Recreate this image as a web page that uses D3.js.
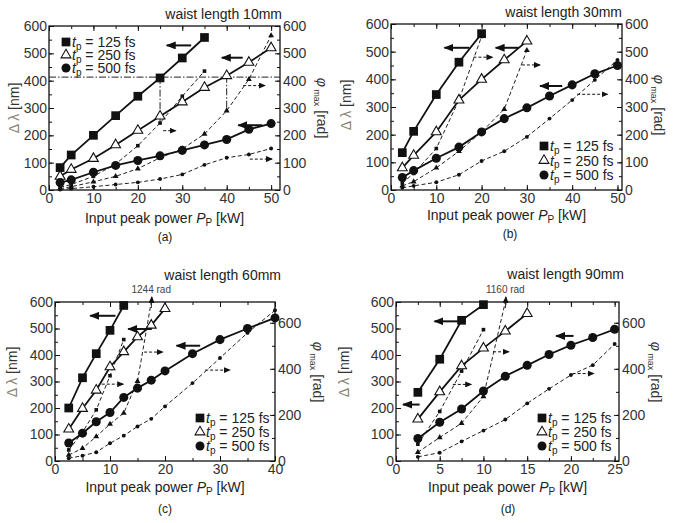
<!DOCTYPE html>
<html>
<head>
<meta charset="utf-8">
<script src="https://cdn.jsdelivr.net/npm/d3@7"></script>
<style>
  body { margin: 0; background: #fff; }
  svg text { font-family: "Liberation Sans", Arial, sans-serif; }
</style>
</head>
<body>
<svg id="fig" width="674" height="523"></svg>
<script>
// pulse widths (legend)
const pulses = [125, 250, 500];

// (a) waist length 10mm
const pA125 = [2.5, 5, 10, 15, 20, 25, 30, 35];
const pA250 = [2.5, 5, 10, 15, 20, 25, 30, 35, 40, 45, 50];
const pA500 = [2.5, 5, 10, 15, 20, 25, 30, 35, 40, 45, 50];
const dlA125 = [82, 128, 200, 272, 343, 410, 483, 558];
const dlA250 = [50, 75, 115, 165, 218, 270, 322, 375, 418, 467, 520];
const dlA500 = [27, 37, 65, 90, 108, 125, 145, 165, 185, 222, 243];
const phA125 = [10, 20, 50, 95, 162, 245, 343, 435];
const phA250 = [5, 12, 30, 50, 78, 118, 150, 205, 290, 405, 565];
const phA500 = [2, 5, 12, 20, 28, 40, 57, 92, 118, 130, 152];

// (b) waist length 30mm
const pB125 = [2.5, 5, 10, 15, 20];
const pB250 = [2.5, 5, 10, 15, 20, 25, 30];
const pB500 = [2.5, 5, 10, 15, 20, 25, 30, 35, 40, 45, 50];
const dlB125 = [135, 212, 345, 462, 565];
const dlB250 = [80, 125, 210, 325, 400, 470, 538];
const dlB500 = [45, 70, 115, 155, 210, 258, 297, 340, 380, 420, 450];
const phB125 = [25, 60, 150, 325, 555];
const phB250 = [15, 30, 80, 140, 210, 292, 505];
const phB500 = [8, 15, 28, 55, 105, 140, 192, 258, 325, 398, 470];

// (c) waist length 60mm
const pC125 = [2.5, 5, 7.5, 10, 12.5];
const pC250 = [2.5, 5, 7.5, 10, 12.5, 15, 17.5, 20];
const pC500 = [2.5, 5, 7.5, 10, 12.5, 15, 17.5, 20, 25, 30, 35, 40];
const dlC125 = [200, 314, 405, 493, 587];
const dlC250 = [120, 198, 267, 355, 412, 468, 512, 575];
const dlC500 = [68, 105, 148, 183, 240, 275, 305, 340, 405, 458, 500, 540];
const phC125 = [48, 125, 222, 370, 527];
const phC250 = [26, 55, 106, 160, 208, 346, 1244];
const phC500 = [12, 23, 38, 77, 110, 150, 183, 237, 338, 447, 556, 654];

// (d) waist length 90mm
const pD125 = [2.5, 5, 7.5, 10];
const pD250 = [2.5, 5, 7.5, 10, 12.5, 15];
const pD500 = [2.5, 5, 7.5, 10, 12.5, 15, 17.5, 20, 22.5, 25];
const dlD125 = [259, 384, 531, 590];
const dlD250 = [158, 261, 359, 426, 490, 556];
const dlD500 = [85, 146, 196, 264, 320, 361, 402, 437, 466, 497];
const phD125 = [73, 215, 390, 570];
const phD250 = [38, 102, 164, 280, 1160];
const phD500 = [18, 36, 85, 132, 180, 250, 313, 373, 416, 508];

// tick labels
const xTicksAB = [0, 10, 20, 30, 40, 50];
const xTicksC = [0, 10, 20, 30, 40];
const xTicksD = [0, 5, 10, 15, 20, 25];
const yTicksL = [0, 100, 200, 300, 400, 500, 600];
const yTicksR2 = [0, 200, 400, 600];

const panels = [
  {
    left: 49, right: 280, top: 26, bottom: 190, xMax: 52, rMax: 600,
    xTicks: xTicksAB, xMinor: 5, rTicks: yTicksL, rMinor: 50,
    title: "waist length 10mm", titleX: 282, titleY: 19, caption: "(a)", capX: 165, capY: 241,
    yTitleX: 19, rTitleX: 317, titleYc: 108, xTitleY: 223,
    legend: [66, 42, 13],
    series: [
      [pA125, dlA125, phA125, "sq"], [pA250, dlA250, phA250, "tri"], [pA500, dlA500, phA500, "dot"]
    ],
    arrows: [
      [32, 26.5, 529, 0], [43.6, 38.9, 484, 0], [48, 42.6, 237, 0],
      [25.7, 28.5, 217, 1], [43.7, 48.6, 382, 1], [45.2, 50.2, 113, 1]
    ],
    guides: true
  },
  {
    left: 391, right: 622, top: 24, bottom: 190, xMax: 51, rMax: 600,
    xTicks: xTicksAB, xMinor: 5, rTicks: yTicksL, rMinor: 50,
    title: "waist length 30mm", titleX: 622, titleY: 17, caption: "(b)", capX: 510, capY: 238,
    yTitleX: 351, rTitleX: 654, titleYc: 105, xTitleY: 220,
    legend: [544, 146, 14.5],
    series: [
      [pB125, dlB125, phB125, "sq"], [pB250, dlB250, phB250, "tri"], [pB500, dlB500, phB500, "dot"]
    ],
    arrows: [
      [17.3, 11.8, 514, 0], [28.2, 23.1, 514, 0], [37.8, 32.9, 376, 0],
      [18.2, 22.4, 480, 1], [28.9, 32.9, 452, 1], [41.1, 47.8, 346, 1]
    ]
  },
  {
    left: 55, right: 275, top: 302, bottom: 461, xMax: 40, rMax: 690,
    xTicks: xTicksC, xMinor: 5, rTicks: yTicksR2, rMinor: 100,
    title: "waist length 60mm", titleX: 281, titleY: 280, caption: "(c)", capX: 165, capY: 513,
    yTitleX: 17, rTitleX: 313, titleYc: 372, xTitleY: 492,
    legend: [200, 418, 14],
    series: [
      [pC125, dlC125, phC125, "sq"], [pC250, dlC250, phC250, "tri"], [pC500, dlC500, phC500, "dot"]
    ],
    arrows: [
      [11, 6.4, 548, 0], [17.6, 13.3, 498, 0], [26.4, 22.1, 435, 0],
      [8.5, 12.4, 290, 1], [16.2, 19.6, 411, 1], [27.3, 31.8, 343, 1]
    ]
  },
  {
    left: 396, right: 619, top: 302, bottom: 461, xMax: 25.5, rMax: 690,
    xTicks: xTicksD, xMinor: 2.5, rTicks: yTicksR2, rMinor: 100,
    title: "waist length 90mm", titleX: 624, titleY: 279, caption: "(d)", capX: 508, capY: 513,
    yTitleX: 349, rTitleX: 651, titleYc: 372, xTitleY: 492,
    legend: [542, 418, 14],
    series: [
      [pD125, dlD125, phD125, "sq"], [pD250, dlD250, phD250, "tri"], [pD500, dlD500, phD500, "dot"]
    ],
    arrows: [
      [7.6, 4.4, 527, 0], [2.7, 0.8, 213, 0], [20.3, 18.3, 472, 0],
      [6.5, 8.6, 289, 1], [11.1, 12.9, 412, 1], [20.2, 22.6, 330, 1]
    ]
  }
];

const svg = d3.select("#fig");
const defs = svg.append("defs");
defs.append("marker").attr("id", "hs").attr("viewBox", "0 0 10 8")
  .attr("refX", 9).attr("refY", 4).attr("markerWidth", 10).attr("markerHeight", 8)
  .attr("markerUnits", "userSpaceOnUse").attr("orient", "auto")
  .append("path").attr("d", "M0,0L10,4L0,8z").attr("fill", "#111");
defs.append("marker").attr("id", "hd").attr("viewBox", "0 0 7 6")
  .attr("refX", 6).attr("refY", 3).attr("markerWidth", 7).attr("markerHeight", 6)
  .attr("markerUnits", "userSpaceOnUse").attr("orient", "auto")
  .append("path").attr("d", "M0,0L7,3L0,6z").attr("fill", "#111");

const bigSym = { sq: d3.symbol(d3.symbolSquare, 76), tri: d3.symbol(d3.symbolTriangle, 42), dot: d3.symbol(d3.symbolCircle, 64) };
const smallSym = { sq: d3.symbol(d3.symbolSquare, 13), tri: d3.symbol(d3.symbolTriangle, 15), dot: d3.symbol(d3.symbolCircle, 12) };

function styleAxis(a) {
  a.select(".domain").remove();
  a.attr("font-family", "Liberation Sans, Arial, sans-serif").attr("font-size", 14);
  a.selectAll("line").attr("stroke", "#111");
  a.selectAll("text").attr("fill", "#333");
  return a;
}

panels.forEach(cfg => {
  const g = svg.append("g");
  const x = d3.scaleLinear().domain([0, cfg.xMax]).range([cfg.left, cfg.right]);
  const yL = d3.scaleLinear().domain([0, 600]).range([cfg.bottom, cfg.top]);
  const yR = d3.scaleLinear().domain([0, cfg.rMax]).range([cfg.bottom, cfg.top]);

  const xMinor = d3.range(0, cfg.xMax, cfg.xMinor);
  const lMinor = d3.range(0, 601, 50);
  const rMinor = d3.range(0, cfg.rMax, cfg.rMinor);

  // minor ticks
  styleAxis(g.append("g").attr("transform", `translate(0,${cfg.bottom})`)
    .call(d3.axisBottom(x).tickValues(xMinor).tickSize(-3).tickFormat("")));
  styleAxis(g.append("g").attr("transform", `translate(0,${cfg.top})`)
    .call(d3.axisTop(x).tickValues(xMinor).tickSize(-3).tickFormat("")));
  styleAxis(g.append("g").attr("transform", `translate(${cfg.left},0)`)
    .call(d3.axisLeft(yL).tickValues(lMinor).tickSize(-3).tickFormat("")));
  styleAxis(g.append("g").attr("transform", `translate(${cfg.right},0)`)
    .call(d3.axisRight(yR).tickValues(rMinor).tickSize(-3).tickFormat("")));

  // major ticks with labels
  styleAxis(g.append("g").attr("transform", `translate(0,${cfg.bottom})`)
    .call(d3.axisBottom(x).tickValues(cfg.xTicks).tickSize(-5).tickPadding(3).tickFormat(d3.format("d"))));
  styleAxis(g.append("g").attr("transform", `translate(0,${cfg.top})`)
    .call(d3.axisTop(x).tickValues(cfg.xTicks).tickSize(-5).tickFormat("")));
  styleAxis(g.append("g").attr("transform", `translate(${cfg.left},0)`)
    .call(d3.axisLeft(yL).tickValues(yTicksL).tickSize(-5).tickPadding(2)));
  styleAxis(g.append("g").attr("transform", `translate(${cfg.right},0)`)
    .call(d3.axisRight(yR).tickValues(cfg.rTicks).tickSize(-5).tickPadding(3)));

  g.append("rect").attr("x", cfg.left).attr("y", cfg.top)
    .attr("width", cfg.right - cfg.left).attr("height", cfg.bottom - cfg.top)
    .attr("fill", "none").attr("stroke", "#111").attr("stroke-width", 1.3);

  // dash-dot guides in (a)
  if (cfg.guides) {
    const gd = g.append("g").attr("stroke", "#222").attr("stroke-width", 1).attr("stroke-dasharray", "7,2,1.5,2").attr("fill", "none");
    gd.append("line").attr("x1", x(0)).attr("x2", cfg.right).attr("y1", yL(413)).attr("y2", yL(413));
    gd.append("line").attr("x1", x(25)).attr("x2", x(25)).attr("y1", yL(413)).attr("y2", yR(phA125[5]));
    gd.append("line").attr("x1", x(40)).attr("x2", x(40)).attr("y1", yL(dlA250[8])).attr("y2", yR(phA250[8]));
  }

  // phase curves (dashed, right axis), clamped at the top with an arrow
  cfg.series.forEach(([px, dl, ph, shape]) => {
    const xs = px.slice(0, ph.length);
    const pts = xs.map((v, i) => [x(v), yR(Math.min(ph[i], cfg.rMax)), ph[i] > cfg.rMax, ph[i]]);
    g.append("path").attr("d", d3.line()(pts.map(p => [p[0], p[1]])))
      .attr("fill", "none").attr("stroke", "#222").attr("stroke-width", 1).attr("stroke-dasharray", "4,2.5");
    pts.forEach(p => {
      if (p[2]) {
        g.append("line").attr("x1", p[0]).attr("y1", p[1] + 6).attr("x2", p[0] + 0.6).attr("y2", p[1] - 5)
          .attr("stroke", "#222").attr("stroke-width", 1).attr("marker-end", "url(#hd)");
        g.append("text").attr("x", p[0]).attr("y", p[1] - 9).attr("text-anchor", "middle")
          .attr("font-size", 10).attr("fill", "#444").text(`${p[3]} rad`);
      } else {
        g.append("path").attr("d", smallSym[shape]()).attr("transform", `translate(${p[0]},${p[1]})`).attr("fill", "#111");
      }
    });
  });

  // spectral width curves (solid, left axis)
  cfg.series.forEach(([px, dl, ph, shape]) => {
    const pts = px.map((v, i) => [x(v), yL(dl[i])]);
    g.append("path").attr("d", d3.line()(pts)).attr("fill", "none").attr("stroke", "#111").attr("stroke-width", 1.8);
    pts.forEach(p => {
      g.append("path").attr("d", bigSym[shape]()).attr("transform", `translate(${p[0]},${p[1]})`)
        .attr("fill", shape === "tri" ? "#fff" : "#111").attr("stroke", "#111").attr("stroke-width", shape === "tri" ? 1.1 : 0);
    });
  });

  // axis-pointing arrows
  cfg.arrows.forEach(([x1, x2, yv, dashed]) => {
    g.append("line").attr("x1", x(x1)).attr("x2", x(x2)).attr("y1", yL(yv)).attr("y2", yL(yv))
      .attr("stroke", "#111").attr("stroke-width", dashed ? 1 : 2)
      .attr("stroke-dasharray", dashed ? "3,2" : null)
      .attr("marker-end", dashed ? "url(#hd)" : "url(#hs)");
  });

  // legend
  const [lx, ly, ldy] = cfg.legend;
  pulses.forEach((p, i) => {
    const shape = cfg.series[i][3];
    const yy = ly + i * ldy;
    g.append("path").attr("d", bigSym[shape]()).attr("transform", `translate(${lx},${yy})`)
      .attr("fill", shape === "tri" ? "#fff" : "#111").attr("stroke", "#111").attr("stroke-width", shape === "tri" ? 1.1 : 0);
    const t = g.append("text").attr("x", lx + 6).attr("y", yy + 5).attr("font-size", 14).attr("fill", "#222");
    t.append("tspan").attr("font-style", "italic").text("t");
    t.append("tspan").attr("font-size", 10).attr("dy", 2.5).text("p");
    t.append("tspan").attr("dy", -2.5).text(` = ${p} fs`);
  });

  // titles
  g.append("text").attr("x", cfg.titleX).attr("y", cfg.titleY).attr("text-anchor", "end")
    .attr("font-size", 14).attr("fill", "#222").text(cfg.title);

  const xt = g.append("text").attr("x", (cfg.left + cfg.right) / 2).attr("y", cfg.xTitleY)
    .attr("text-anchor", "middle").attr("font-size", 14).attr("fill", "#222");
  xt.append("tspan").text("Input peak power ");
  xt.append("tspan").attr("font-style", "italic").text("P");
  xt.append("tspan").attr("font-size", 10).attr("dy", 3).text("P");
  xt.append("tspan").attr("dy", -3).text(" [kW]");

  const yt = g.append("text").attr("transform", `translate(${cfg.yTitleX},${cfg.titleYc}) rotate(-90)`)
    .attr("text-anchor", "middle").attr("font-size", 14);
  yt.append("tspan").attr("fill", "#8a8275").text("Δ λ");
  yt.append("tspan").attr("fill", "#333").text(" [nm]");

  const rt = g.append("text").attr("transform", `translate(${cfg.rTitleX},${cfg.titleYc}) rotate(90)`)
    .attr("text-anchor", "middle").attr("font-size", 14).attr("fill", "#333");
  rt.append("tspan").attr("font-style", "italic").text("φ");
  rt.append("tspan").attr("font-size", 9).attr("dy", 3).text(" max");
  rt.append("tspan").attr("dy", -3).text(" [rad]");

  g.append("text").attr("x", cfg.capX).attr("y", cfg.capY).attr("text-anchor", "middle")
    .attr("font-family", "Liberation Serif, serif").attr("font-size", 12).attr("fill", "#222").text(cfg.caption);
});
</script>
</body>
</html>
